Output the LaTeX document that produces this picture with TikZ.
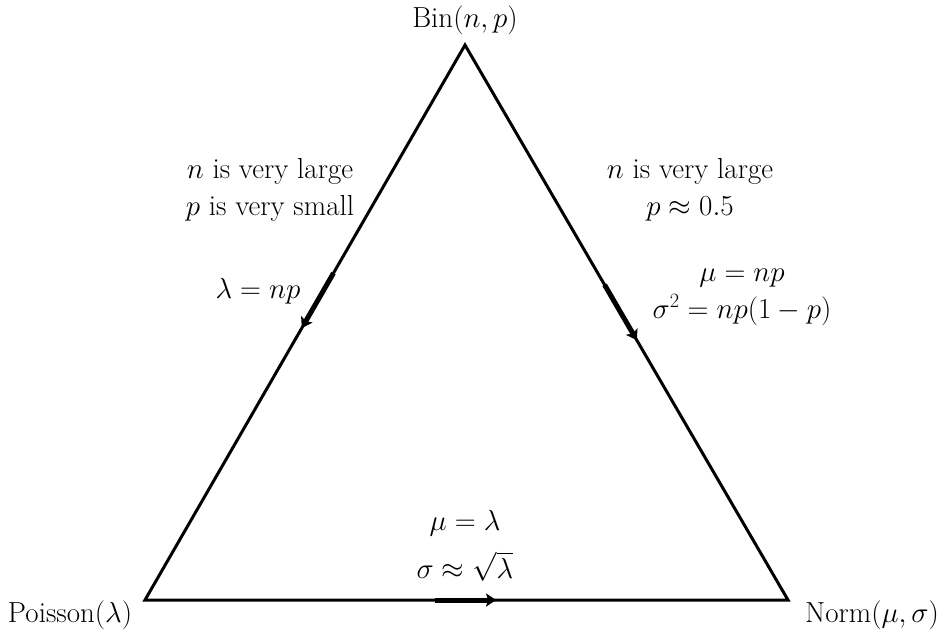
\RequirePackage{fix-cm}
\documentclass[tikz,border=0pt]{standalone}
\usetikzlibrary{calc,arrows.meta}
\begin{document}
\begin{tikzpicture}[x=1pt,y=-1pt,
  edge/.style={line width=3pt,line join=miter},
  flow/.style={line width=5pt,-{Stealth[length=10pt,width=13pt,inset=2pt]}},
  lbl/.style={font=\fontsize{29}{37}\selectfont,align=center,inner sep=0pt}]
\useasboundingbox (0,0) rectangle (950,638);
\coordinate (top) at (465,45);
\coordinate (bl) at (145,600);
\coordinate (br) at (788,600);
\draw[edge] (top) -- (bl) -- (br) -- cycle;
\coordinate (a1) at ($(top)!0.411!(bl)$);
\coordinate (a2) at ($(top)!0.510!(bl)$);
\coordinate (b1) at ($(top)!0.432!(br)$);
\coordinate (b2) at ($(top)!0.532!(br)$);
\coordinate (c1) at ($(bl)!0.451!(br)$);
\coordinate (c2) at ($(bl)!0.546!(br)$);
\draw[flow] (a1) -- (a2);
\draw[flow] (b1) -- (b2);
\draw[flow] (c1) -- (c2);
\node[lbl] (bin) at (465,20) {Bin$(n,p)$};
\node[lbl] (poi) at (70,615) {Poisson$(\lambda)$};
\node[lbl] (nor) at (872,615) {Norm$(\mu,\sigma)$};
\node[lbl] (l1) at (270,190) {$n$ is very large\\$p$ is very small};
\node[lbl] (r1) at (690,190) {$n$ is very large\\$p\approx 0.5$};
\node[lbl] (l2) at (258,291) {$\lambda=np$};
\node[lbl] (r2) at (742,297) {$\mu=np$\\$\sigma^2=np(1-p)$};
\node[lbl,anchor=base] (b1l) at (465,530) {$\mu=\lambda$};
\node[lbl,anchor=base] (b2l) at (465,578) {$\sigma\approx\smash{\sqrt{\lambda}}$};
\end{tikzpicture}
\end{document}
